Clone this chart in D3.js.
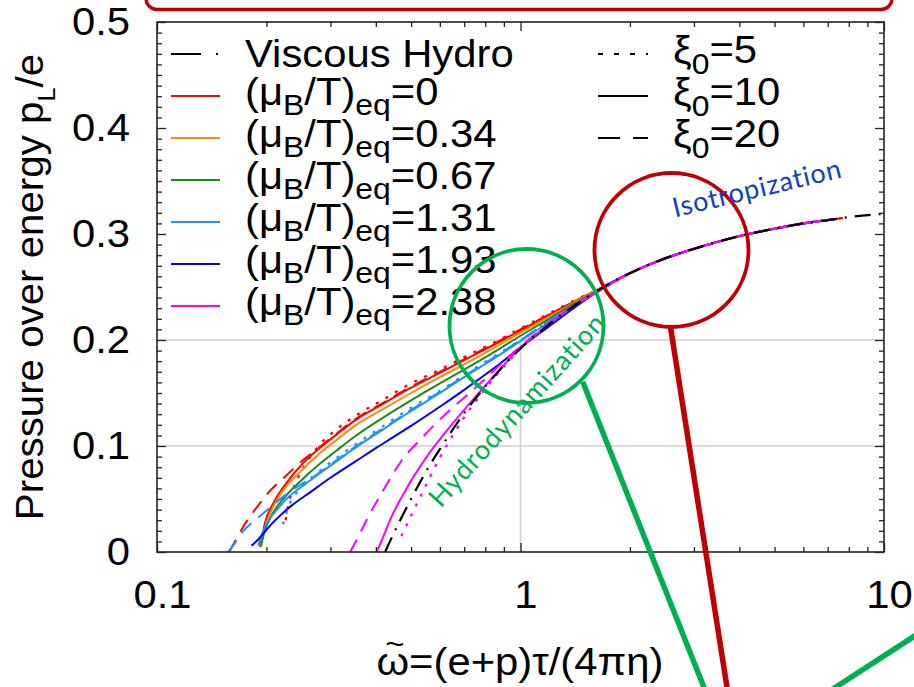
<!DOCTYPE html>
<html>
<head>
<meta charset="utf-8">
<script src="https://cdn.jsdelivr.net/npm/d3@7"></script>
<style>
  html, body { margin: 0; padding: 0; background: #fff; }
  svg { display: block; }
</style>
</head>
<body>
<svg id="chart" width="914" height="687"></svg>
<script>
// ---------------- data ----------------
// baryon chemical potential over temperature at equilibrium, one colour each
const muValues = [0, 0.34, 0.67, 1.31, 1.93, 2.38];
const muColors = ["#ff0000", "#ff8c00", "#1d8a1d", "#1e90ff", "#0000ff", "#ff00ff"];
// initial anisotropy parameter, one line style each
const xiValues = [5, 10, 20];

const xTicks = [0.1, 1, 10];
const yTicks = [0, 0.1, 0.2, 0.3, 0.4, 0.5];

// first-order viscous hydrodynamics, [w~, pL/e]
const viscousHydro = [[0.424,0.000],[0.45,0.019],[0.5,0.050],[0.55,0.076],[0.6,0.097],[0.7,0.131],
  [0.8,0.156],[0.9,0.176],[1.0,0.192],[1.2,0.215],[1.4,0.232],[1.6,0.245],[2,0.263],[2.5,0.277],
  [3,0.286],[4,0.298],[5,0.305],[6,0.310],[7,0.313],[8,0.316],[10,0.319]];

// late-time attractor shared by all kinetic runs
const attractorTail = [[2.0,0.263],[2.5,0.277],[3,0.286],[4,0.298],[5,0.305],[6,0.310],[7.3,0.314]];
const attractorTailLong = [[7.7,0.315]];

// kinetic theory runs, early-time part, [w~, pL/e]
const mu0_xi5 = [[0.226,0.030],[0.230,0.045],[0.236,0.058],[0.245,0.071],[0.263,0.089],[0.28,0.101],
  [0.31,0.115],[0.35,0.128],[0.42,0.144],[0.5,0.159],[0.6,0.172],[0.7,0.184],[0.85,0.198],
  [1.0,0.211],[1.2,0.225],[1.4,0.237],[1.6,0.246]];
const mu0_xi10 = [[0.192,0.005],[0.195,0.016],[0.198,0.027],[0.209,0.046],[0.227,0.065],[0.2525,0.084],
  [0.28,0.098],[0.31,0.110],[0.35,0.124],[0.42,0.140],[0.5,0.155],[0.6,0.169],[0.7,0.181],
  [0.85,0.196],[1.0,0.209],[1.2,0.224],[1.4,0.236],[1.6,0.246]];
const mu0_xi20 = [[0.158,0.000],[0.165,0.012],[0.175,0.027],[0.188,0.042],[0.205,0.058],[0.225,0.071],
  [0.245,0.083],[0.28,0.099],[0.31,0.111],[0.35,0.125],[0.42,0.141],[0.5,0.156],[0.6,0.170],
  [0.7,0.182],[0.85,0.197],[1.0,0.210],[1.2,0.224],[1.4,0.236],[1.6,0.246]];
const mu034_xi10 = [[0.193,0.005],[0.197,0.020],[0.205,0.037],[0.22,0.056],[0.25,0.077],[0.28,0.093],
  [0.31,0.105],[0.35,0.119],[0.42,0.135],[0.5,0.150],[0.6,0.165],[0.7,0.177],[0.85,0.193],
  [1.0,0.207],[1.2,0.222],[1.4,0.235],[1.6,0.246]];
const mu067_xi10 = [[0.193,0.005],[0.198,0.020],[0.207,0.035],[0.225,0.052],[0.25,0.068],[0.28,0.083],
  [0.31,0.095],[0.35,0.109],[0.42,0.127],[0.5,0.143],[0.6,0.159],[0.7,0.172],[0.85,0.189],
  [1.0,0.204],[1.2,0.220],[1.4,0.234],[1.6,0.245]];
const mu131_xi5 = [[0.222,0.026],[0.226,0.035],[0.232,0.046],[0.245,0.058],[0.27,0.072],[0.31,0.088],
  [0.35,0.101],[0.42,0.119],[0.5,0.136],[0.6,0.152],[0.7,0.167],[0.85,0.185],[1.0,0.200],
  [1.2,0.218],[1.4,0.233],[1.6,0.244]];
const mu131_xi10 = [[0.19,0.006],[0.195,0.018],[0.204,0.031],[0.215,0.041],[0.227,0.050],[0.258,0.065],
  [0.28,0.074],[0.31,0.085],[0.35,0.098],[0.42,0.116],[0.5,0.133],[0.6,0.150],[0.7,0.165],
  [0.85,0.183],[1.0,0.199],[1.2,0.217],[1.4,0.232],[1.6,0.244]];
const mu131_xi20 = [[0.157,0.000],[0.165,0.010],[0.172,0.019],[0.183,0.028],[0.197,0.037],[0.213,0.047],
  [0.232,0.057],[0.258,0.067],[0.28,0.075],[0.31,0.086],[0.35,0.099],[0.42,0.117],[0.5,0.134],
  [0.6,0.151],[0.7,0.166],[0.85,0.184],[1.0,0.200],[1.2,0.218],[1.4,0.232],[1.6,0.244]];
const mu193_xi10 = [[0.182,0.006],[0.19,0.012],[0.2,0.021],[0.213,0.031],[0.235,0.044],[0.263,0.056],
  [0.3,0.070],[0.35,0.085],[0.4,0.098],[0.45,0.109],[0.5,0.119],[0.6,0.137],[0.7,0.153],
  [0.85,0.174],[1.0,0.193],[1.2,0.213],[1.4,0.230],[1.6,0.244]];
const mu238_xi5 = [[0.47,0.015],[0.49,0.028],[0.53,0.052],[0.6,0.089],[0.7,0.127],[0.8,0.154],
  [0.9,0.175],[1.0,0.192],[1.2,0.215],[1.4,0.232],[1.6,0.244]];
const mu238_xi10 = [[0.402,0.000],[0.42,0.015],[0.4375,0.030],[0.486,0.060],[0.55,0.089],[0.65,0.121],
  [0.75,0.146],[0.85,0.167],[1.0,0.193],[1.2,0.215],[1.4,0.232],[1.6,0.244]];
const mu238_xi20 = [[0.340,0.000],[0.36,0.016],[0.377,0.030],[0.419,0.058],[0.466,0.084],[0.54,0.109],
  [0.64,0.134],[0.758,0.156],[0.9,0.180],[1.0,0.194],[1.2,0.216],[1.4,0.232],[1.6,0.244]];

// ---------------- layout ----------------
const W = 914, H = 687;
const plot = { left: 157, right: 884, top: 22, bottom: 552 };
const FONT = "'Liberation Sans', Arial, Helvetica, sans-serif";
const FS = 38, SUB = 29, STRETCH = 1.1;

const dashFor = { 5: "3,8", 10: null, 20: "14,9" };
const legendDashFor = { 5: "5,11", 10: null, 20: "22,13" };
const hydroDash = "16,8,2,8";

const kineticRuns = [
  { mu: 0,    xi: 20, pts: mu0_xi20 },
  { mu: 0,    xi: 10, pts: mu0_xi10 },
  { mu: 0,    xi: 5,  pts: mu0_xi5 },
  { mu: 0.34, xi: 10, pts: mu034_xi10 },
  { mu: 0.67, xi: 10, pts: mu067_xi10 },
  { mu: 1.31, xi: 20, pts: mu131_xi20 },
  { mu: 1.31, xi: 10, pts: mu131_xi10 },
  { mu: 1.31, xi: 5,  pts: mu131_xi5 },
  { mu: 1.93, xi: 10, pts: mu193_xi10 },
  { mu: 2.38, xi: 20, pts: mu238_xi20 },
  { mu: 2.38, xi: 10, pts: mu238_xi10 },
  { mu: 2.38, xi: 5,  pts: mu238_xi5 }
].map(r => ({
  ...r,
  color: muColors[muValues.indexOf(r.mu)],
  pts: r.pts.concat(attractorTail, r.mu === 0 ? attractorTailLong : [])
}));

const svg = d3.select("#chart");

const x = d3.scaleLog().domain([0.1, 10]).range([plot.left, plot.right]);
const y = d3.scaleLinear().domain([0, 0.5]).range([plot.bottom, plot.top]);

svg.append("defs").append("clipPath").attr("id", "plotClip")
  .append("rect")
  .attr("x", plot.left).attr("y", plot.top)
  .attr("width", plot.right - plot.left).attr("height", plot.bottom - plot.top);

// ---------------- grid ----------------
const grid = svg.append("g").attr("stroke", "#cfcfcf").attr("stroke-width", 1.6);
grid.selectAll("line.gy").data(yTicks.filter(v => v > 0 && v < 0.5)).join("line")
  .attr("x1", plot.left).attr("x2", plot.right)
  .attr("y1", d => y(d)).attr("y2", d => y(d));
grid.selectAll("line.gx").data(xTicks.filter(v => v > 0.1 && v < 10)).join("line")
  .attr("x1", d => x(d)).attr("x2", d => x(d))
  .attr("y1", plot.bottom).attr("y2", plot.top);

// opaque key background over the upper part of the plot
svg.append("rect")
  .attr("x", plot.left).attr("y", plot.top)
  .attr("width", plot.right - plot.left).attr("height", y(0.2) - 1 - plot.top)
  .attr("fill", "#fff");

// ---------------- curves ----------------
const line = d3.line().x(d => x(d[0])).y(d => y(d[1])).curve(d3.curveMonotoneX);
const curves = svg.append("g").attr("clip-path", "url(#plotClip)").attr("fill", "none");

curves.selectAll("path.kin").data(kineticRuns).join("path")
  .attr("class", "kin")
  .attr("d", d => line(d.pts))
  .attr("stroke", d => d.color)
  .attr("stroke-width", d => d.xi === 5 ? 2.3 : 2)
  .attr("stroke-dasharray", d => dashFor[d.xi]);

curves.append("path")
  .attr("d", line(viscousHydro))
  .attr("stroke", "#000")
  .attr("stroke-width", 2.2)
  .attr("stroke-dasharray", hydroDash);

// ---------------- axes ----------------
const minorX = [2,3,4,5,6,7,8,9].flatMap(k => [k * 0.1, k]);
const minorY = d3.range(1, 50).map(i => i / 100).filter(v => Math.round(v * 100) % 10 !== 0);

function styleAxis(g) {
  g.select(".domain").remove();
  g.selectAll("line").attr("stroke", "#222").attr("stroke-width", 1.3);
  g.selectAll("text")
    .attr("font-family", FONT).attr("font-size", FS).attr("fill", "#000");
}

const fmt = d3.format("~g");

// bottom
svg.append("g").attr("transform", `translate(0,${plot.bottom})`)
  .call(d3.axisBottom(x).tickValues(xTicks).tickSize(-9).tickPadding(29).tickFormat(fmt))
  .call(styleAxis)
  .call(g => g.selectAll("text").attr("transform", `translate(5,0) scale(${STRETCH},1)`));
svg.append("g").attr("transform", `translate(0,${plot.bottom})`)
  .call(d3.axisBottom(x).tickValues(minorX).tickSize(-5).tickFormat(""))
  .call(styleAxis);
// top
svg.append("g").attr("transform", `translate(0,${plot.top})`)
  .call(d3.axisTop(x).tickValues(xTicks).tickSize(-9).tickFormat(""))
  .call(styleAxis);
svg.append("g").attr("transform", `translate(0,${plot.top})`)
  .call(d3.axisTop(x).tickValues(minorX).tickSize(-5).tickFormat(""))
  .call(styleAxis);
// left
svg.append("g").attr("transform", `translate(${plot.left},0)`)
  .call(d3.axisLeft(y).tickValues(yTicks).tickSize(-9).tickPadding(24.5).tickFormat(fmt))
  .call(styleAxis)
  .call(g => g.selectAll("text").attr("transform", `scale(${STRETCH},1)`));
svg.append("g").attr("transform", `translate(${plot.left},0)`)
  .call(d3.axisLeft(y).tickValues(minorY).tickSize(-5).tickFormat(""))
  .call(styleAxis);
// right
svg.append("g").attr("transform", `translate(${plot.right},0)`)
  .call(d3.axisRight(y).tickValues(yTicks).tickSize(-9).tickFormat(""))
  .call(styleAxis);
svg.append("g").attr("transform", `translate(${plot.right},0)`)
  .call(d3.axisRight(y).tickValues(minorY).tickSize(-5).tickFormat(""))
  .call(styleAxis);

// frame
svg.append("rect")
  .attr("x", plot.left).attr("y", plot.top)
  .attr("width", plot.right - plot.left).attr("height", plot.bottom - plot.top)
  .attr("fill", "none").attr("stroke", "#222").attr("stroke-width", 1.6);

// ---------------- axis titles ----------------
const yTitle = svg.append("text")
  .attr("transform", `translate(43,287) rotate(-90) scale(1.06,1)`)
  .attr("text-anchor", "middle")
  .attr("font-family", FONT).attr("font-size", FS).attr("fill", "#000");
yTitle.append("tspan").text("Pressure over energy p");
yTitle.append("tspan").attr("font-size", 24).attr("dy", 12).text("L");
yTitle.append("tspan").attr("dy", -12).text("/e");

svg.append("text")
  .attr("transform", `translate(520,675) scale(${STRETCH},1)`)
  .attr("text-anchor", "middle")
  .attr("font-family", FONT).attr("font-size", FS).attr("fill", "#000")
  .text("ω=(e+p)τ/(4πη)");
svg.append("text")
  .attr("transform", `translate(395,654) scale(${STRETCH},1)`)
  .attr("text-anchor", "middle")
  .attr("font-family", FONT).attr("font-size", 30).attr("fill", "#000")
  .text("~");

// ---------------- key ----------------
const key = svg.append("g").attr("font-family", FONT).attr("font-size", FS).attr("fill", "#000");
const rowY = i => 54 + i * 42;

// left column: hydro + one row per chemical potential
key.append("line").attr("x1", 171).attr("x2", 220).attr("y1", rowY(0)).attr("y2", rowY(0))
  .attr("stroke", "#000").attr("stroke-width", 2).attr("stroke-dasharray", "30,15,2,15");
key.append("text").attr("transform", `translate(245,${rowY(0) + 13}) scale(${STRETCH},1)`).text("Viscous Hydro");

muValues.forEach((mu, i) => {
  const yy = rowY(i + 1);
  key.append("line").attr("x1", 171).attr("x2", 220).attr("y1", yy).attr("y2", yy)
    .attr("stroke", muColors[i]).attr("stroke-width", 2);
  const t = key.append("text").attr("transform", `translate(245,${yy + 8.5}) scale(${STRETCH},1)`);
  t.append("tspan").text("(μ");
  t.append("tspan").attr("font-size", SUB).attr("dy", 10).text("B");
  t.append("tspan").attr("dy", -10).text("/T)");
  t.append("tspan").attr("font-size", SUB).attr("dy", 10).text("eq");
  t.append("tspan").attr("dy", -10).text("=" + mu);
});

// right column: one row per initial anisotropy
xiValues.forEach((xi, i) => {
  const yy = rowY(i);
  key.append("line").attr("x1", 598).attr("x2", 648).attr("y1", yy).attr("y2", yy)
    .attr("stroke", "#000").attr("stroke-width", 2).attr("stroke-dasharray", legendDashFor[xi]);
  const t = key.append("text").attr("transform", `translate(673,${yy + 9}) scale(${STRETCH},1)`);
  t.append("tspan").text("ξ");
  t.append("tspan").attr("font-size", SUB).attr("dy", 11).text("0");
  t.append("tspan").attr("dy", -11).text("=" + xi);
});

// ---------------- callouts ----------------
const RED = "#c00000", GREEN = "#00b050";
const callouts = svg.append("g").attr("fill", "none");

callouts.append("rect")
  .attr("x", 146).attr("y", -30).attr("width", 746).attr("height", 39.5).attr("rx", 11)
  .attr("stroke", RED).attr("stroke-width", 3.5);

callouts.append("circle").attr("cx", 526.5).attr("cy", 326).attr("r", 77)
  .attr("stroke", GREEN).attr("stroke-width", 3.8);
callouts.append("line").attr("x1", 582.7).attr("y1", 381.7).attr("x2", 709).attr("y2", 700)
  .attr("stroke", GREEN).attr("stroke-width", 5.5);
callouts.append("line").attr("x1", 816).attr("y1", 700).attr("x2", 930).attr("y2", 626)
  .attr("stroke", GREEN).attr("stroke-width", 5.5);

callouts.append("circle").attr("cx", 671.5).attr("cy", 250).attr("r", 77)
  .attr("stroke", RED).attr("stroke-width", 3.8);
callouts.append("line").attr("x1", 670.5).attr("y1", 327).attr("x2", 729).attr("y2", 700)
  .attr("stroke", RED).attr("stroke-width", 5.5);

svg.append("text")
  .attr("transform", "translate(757,188) rotate(-13.5)")
  .attr("text-anchor", "middle").attr("dy", "0.35em")
  .attr("font-family", "Lato, 'Open Sans', sans-serif").attr("font-size", 27)
  .attr("letter-spacing", 0.8)
  .attr("fill", "#1040c0")
  .text("Isotropization");

svg.append("text")
  .attr("transform", "translate(517,410) rotate(-48)")
  .attr("text-anchor", "middle").attr("dy", "0.35em")
  .attr("font-family", "Lato, 'Open Sans', sans-serif").attr("font-size", 27)
  .attr("letter-spacing", 1)
  .attr("fill", GREEN)
  .text("Hydrodynamization");
</script>
</body>
</html>
